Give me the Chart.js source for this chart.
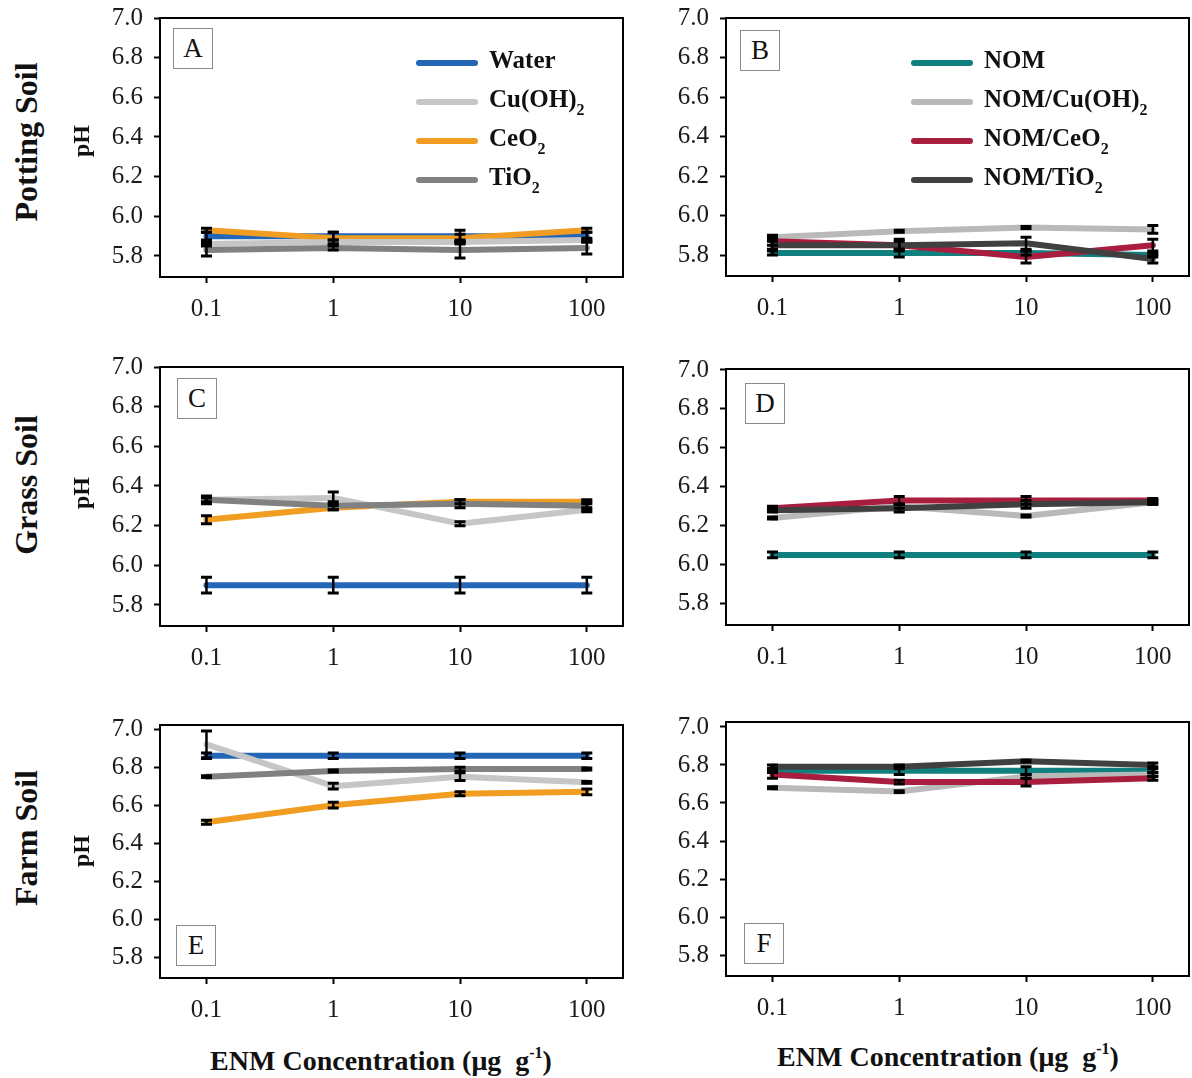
<!DOCTYPE html>
<html>
<head>
<meta charset="utf-8">
<script src="https://cdn.jsdelivr.net/npm/chart.js@4/dist/chart.umd.min.js"></script>
<style>
  html, body { margin: 0; padding: 0; background: #fff; }
  body { position: relative; width: 1192px; height: 1078px; overflow: hidden; font-family: 'Liberation Serif', 'Times New Roman', serif; color: #111; }
  .panel { position: absolute; }
  .tag { position: absolute; width: 38px; height: 39px; border: 1px solid #8a8a8a; font-size: 27px; line-height: 39px; text-align: center; background: #fff; }
  .leg { position: absolute; font-weight: 700; font-size: 25px; }
  .leg-row { position: relative; height: 39px; }
  .leg-line { position: absolute; left: 0; top: 18px; width: 62px; height: 6px; border-radius: 3px; }
  .leg-txt { position: absolute; left: 73px; top: 4px; white-space: nowrap; }
  sub { font-size: 16px; position: relative; top: 8px; vertical-align: baseline; }
  sup { font-size: 16px; position: relative; top: -12px; vertical-align: baseline; }
  .rot { position: absolute; transform: translate(-50%, -50%) rotate(-90deg); white-space: nowrap; font-weight: 700; }
  .xt { position: absolute; transform: translateX(-50%); white-space: nowrap; font-weight: 700; font-size: 28px; }
</style>
</head>
<body>
<script>
const FONT = "'Liberation Serif', 'Times New Roman', serif";

// ejes
const CONC = [0.1, 1, 10, 100];
const Y_TICKS = [5.8, 6.0, 6.2, 6.4, 6.6, 6.8, 7.0];

// leyendas
const NAMES_L = ['Water', 'Cu(OH)2', 'CeO2', 'TiO2'];
const NAMES_R = ['NOM', 'NOM/Cu(OH)2', 'NOM/CeO2', 'NOM/TiO2'];
const COL_L = ['#2466b6', '#c6c6c6', '#f09d22', '#818181'];
const COL_R = ['#10807e', '#b9b9b9', '#a91e3f', '#404040'];

// A - Potting soil, agua
const A_water = [5.90, 5.90, 5.90, 5.90], A_water_sd = [0.02, 0.02, 0.03, 0.02];
const A_cu    = [5.86, 5.87, 5.87, 5.88], A_cu_sd    = [0.01, 0.01, 0.01, 0.01];
const A_ce    = [5.93, 5.89, 5.89, 5.93], A_ce_sd    = [0.01, 0.03, 0.02, 0.01];
const A_ti    = [5.83, 5.84, 5.83, 5.84], A_ti_sd    = [0.03, 0.01, 0.04, 0.03];
// B - Potting soil, NOM
const B_nom = [5.81, 5.81, 5.81, 5.80], B_nom_sd = [0.01, 0.02, 0.01, 0.01];
const B_cu  = [5.89, 5.92, 5.94, 5.93], B_cu_sd  = [0.01, 0.005, 0.005, 0.02];
const B_ce  = [5.87, 5.85, 5.79, 5.85], B_ce_sd  = [0.02, 0.02, 0.03, 0.03];
const B_ti  = [5.85, 5.85, 5.86, 5.78], B_ti_sd  = [0.02, 0.03, 0.03, 0.02];
// C - Grass soil, agua
const C_water = [5.90, 5.90, 5.90, 5.90], C_water_sd = [0.04, 0.04, 0.04, 0.04];
const C_cu    = [6.33, 6.34, 6.21, 6.28], C_cu_sd    = [0.01, 0.03, 0.01, 0.01];
const C_ce    = [6.23, 6.29, 6.32, 6.32], C_ce_sd    = [0.02, 0.01, 0.01, 0.01];
const C_ti    = [6.33, 6.30, 6.31, 6.30], C_ti_sd    = [0.02, 0.02, 0.02, 0.02];
// D - Grass soil, NOM
const D_nom = [6.05, 6.05, 6.05, 6.05], D_nom_sd = [0.015, 0.015, 0.015, 0.015];
const D_cu  = [6.24, 6.30, 6.25, 6.32], D_cu_sd  = [0.005, 0.01, 0.005, 0.01];
const D_ce  = [6.29, 6.33, 6.33, 6.33], D_ce_sd  = [0.01, 0.02, 0.02, 0.01];
const D_ti  = [6.28, 6.29, 6.31, 6.32], D_ti_sd  = [0.01, 0.02, 0.02, 0.01];
// E - Farm soil, agua
const E_water = [6.86, 6.86, 6.86, 6.86], E_water_sd = [0.015, 0.015, 0.015, 0.015];
const E_cu    = [6.92, 6.70, 6.75, 6.72], E_cu_sd    = [0.07, 0.015, 0.02, 0.005];
const E_ce    = [6.51, 6.60, 6.66, 6.67], E_ce_sd    = [0.01, 0.015, 0.01, 0.015];
const E_ti    = [6.75, 6.78, 6.79, 6.79], E_ti_sd    = [0.005, 0.005, 0.01, 0.005];
// F - Farm soil, NOM
const F_nom = [6.77, 6.77, 6.77, 6.77], F_nom_sd = [0.01, 0.02, 0.02, 0.01];
const F_cu  = [6.68, 6.66, 6.74, 6.75], F_cu_sd  = [0.005, 0.005, 0.01, 0.01];
const F_ce  = [6.75, 6.71, 6.71, 6.73], F_ce_sd  = [0.02, 0.01, 0.02, 0.01];
const F_ti  = [6.79, 6.79, 6.82, 6.80], F_ti_sd  = [0.01, 0.01, 0.005, 0.01];

// orden de dibujo: indices de abajo a arriba
const DRAW_L = [0, 2, 1, 3];
const DRAW_R = [0, 1, 2, 3];

const PANELS = [
  { tag:'A', box:{l:160, t:18,  r:623,  b:277}, y:[5.694, 7.0],  tagAt:[173, 28],  right:false,
    series:[[A_water,A_water_sd],[A_cu,A_cu_sd],[A_ce,A_ce_sd],[A_ti,A_ti_sd]] },
  { tag:'B', box:{l:726, t:18,  r:1189, b:276}, y:[5.694, 7.0],  tagAt:[740, 30],  right:true,
    series:[[B_nom,B_nom_sd],[B_cu,B_cu_sd],[B_ce,B_ce_sd],[B_ti,B_ti_sd]] },
  { tag:'C', box:{l:160, t:367, r:623,  b:626}, y:[5.694, 7.0],  tagAt:[177, 378], right:false,
    series:[[C_water,C_water_sd],[C_cu,C_cu_sd],[C_ce,C_ce_sd],[C_ti,C_ti_sd]] },
  { tag:'D', box:{l:726, t:369, r:1189, b:625}, y:[5.69, 7.005], tagAt:[745, 383], right:true,
    series:[[D_nom,D_nom_sd],[D_cu,D_cu_sd],[D_ce,D_ce_sd],[D_ti,D_ti_sd]] },
  { tag:'E', box:{l:160, t:725, r:623,  b:978}, y:[5.69, 7.022], tagAt:[176, 925], right:false,
    series:[[E_water,E_water_sd],[E_cu,E_cu_sd],[E_ce,E_ce_sd],[E_ti,E_ti_sd]] },
  { tag:'F', box:{l:726, t:722, r:1189, b:976}, y:[5.69, 7.026], tagAt:[744, 923], right:true,
    series:[[F_nom,F_nom_sd],[F_cu,F_cu_sd],[F_ce,F_ce_sd],[F_ti,F_ti_sd]] },
];

const PAD_L = 72, PAD_T = 28, PAD_R = 3, XH = 52;

// barras de error
Chart.register({
  id: 'errorBars',
  afterDatasetsDraw(chart) {
    const { ctx, scales: { x, y } } = chart;
    ctx.save();
    ctx.strokeStyle = '#000';
    chart.data.datasets.forEach(ds => {
      ds.data.forEach((p, i) => {
        const e = ds._err[i];
        const px = x.getPixelForValue(p.x);
        const top = y.getPixelForValue(p.y + e), bot = y.getPixelForValue(p.y - e);
        ctx.lineWidth = 2.5;
        ctx.beginPath(); ctx.moveTo(px, top); ctx.lineTo(px, bot); ctx.stroke();
        ctx.lineWidth = 3;
        ctx.beginPath();
        ctx.moveTo(px - 5.5, top); ctx.lineTo(px + 5.5, top);
        ctx.moveTo(px - 5.5, bot); ctx.lineTo(px + 5.5, bot);
        ctx.stroke();
      });
    });
    ctx.restore();
  }
});

// marco
Chart.register({
  id: 'frame',
  afterDraw(chart) {
    const { ctx, chartArea: a } = chart;
    ctx.save();
    ctx.strokeStyle = '#000';
    ctx.lineWidth = 2;
    ctx.strokeRect(a.left, a.top, a.right - a.left, a.bottom - a.top);
    ctx.restore();
  }
});

function drawPanel(p) {
  const { box } = p;
  const div = document.createElement('div');
  div.className = 'panel';
  div.style.left = (box.l - PAD_L) + 'px';
  div.style.top = (box.t - PAD_T) + 'px';
  div.style.width = (box.r - box.l + PAD_L + PAD_R) + 'px';
  div.style.height = (box.b - box.t + PAD_T + XH) + 'px';
  const cv = document.createElement('canvas');
  div.appendChild(cv);
  document.body.appendChild(div);

  const cols = p.right ? COL_R : COL_L;
  const orderIdx = p.right ? DRAW_R : DRAW_L;
  const datasets = p.series.map(([vals, sd], i) => ({
    data: CONC.map((c, j) => ({ x: c, y: vals[j] })),
    _err: sd,
    borderColor: cols[i],
    borderWidth: 6,
    borderCapStyle: 'round',
    borderJoinStyle: 'round',
    pointRadius: 0,
    tension: 0,
    order: 3 - orderIdx.indexOf(i)
  }));

  const tickFont = { family: FONT, size: 25 };
  new Chart(cv, {
    type: 'line',
    data: { datasets },
    options: {
      responsive: true,
      maintainAspectRatio: false,
      animation: false,
      layout: { padding: { top: PAD_T, right: PAD_R, left: 0, bottom: 0 } },
      plugins: { legend: { display: false }, tooltip: { enabled: false } },
      scales: {
        x: {
          type: 'logarithmic', min: 0.043, max: 193,
          afterBuildTicks: s => { s.ticks = CONC.map(v => ({ value: v })); },
          afterFit: s => { s.height = XH; },
          grid: { drawOnChartArea: false, drawTicks: true, tickLength: 6, tickWidth: 2, tickColor: '#000' },
          border: { display: false },
          ticks: { font: tickFont, color: '#1a1a1a', padding: 11, autoSkip: false, maxRotation: 0, callback: v => String(v) }
        },
        y: {
          min: p.y[0], max: p.y[1],
          afterBuildTicks: s => { s.ticks = Y_TICKS.map(v => ({ value: v })); },
          afterFit: s => { s.width = PAD_L; },
          grid: { drawOnChartArea: false, drawTicks: true, tickLength: 6, tickWidth: 2, tickColor: '#000' },
          border: { display: false },
          ticks: { font: tickFont, color: '#1a1a1a', padding: 11, callback: v => v.toFixed(1) }
        }
      }
    }
  });

  const tag = document.createElement('div');
  tag.className = 'tag';
  tag.style.left = p.tagAt[0] + 'px';
  tag.style.top = p.tagAt[1] + 'px';
  tag.textContent = p.tag;
  document.body.appendChild(tag);
}

function drawLegend(names, cols, left, top) {
  const leg = document.createElement('div');
  leg.className = 'leg';
  leg.style.left = left + 'px';
  leg.style.top = top + 'px';
  leg.innerHTML = names.map((n, i) => `<div class="leg-row"><div class="leg-line" style="background:${cols[i]}"></div><div class="leg-txt">${n.replace(/(\d)$/, '<sub>$1</sub>')}</div></div>`).join('');
  document.body.appendChild(leg);
}

function label(cls, html, x, y, size) {
  const d = document.createElement('div');
  d.className = cls;
  d.style.left = x + 'px';
  d.style.top = y + 'px';
  if (size) d.style.fontSize = size + 'px';
  d.innerHTML = html;
  document.body.appendChild(d);
}

PANELS.forEach(drawPanel);
drawLegend(NAMES_L, COL_L, 416, 42);
drawLegend(NAMES_R, COL_R, 911, 42);

[['Potting Soil', 142, 141], ['Grass Soil', 485, 493], ['Farm Soil', 838, 851]].forEach(([t, yRow, yPh]) => {
  label('rot', t, 26, yRow, 32);
  label('rot', 'pH', 81, yPh, 24);
});
label('xt', 'ENM Concentration (μg&nbsp; g<sup>-1</sup>)', 381, 1045);
label('xt', 'ENM Concentration (μg&nbsp; g<sup>-1</sup>)', 948, 1041);
</script>
</body>
</html>
